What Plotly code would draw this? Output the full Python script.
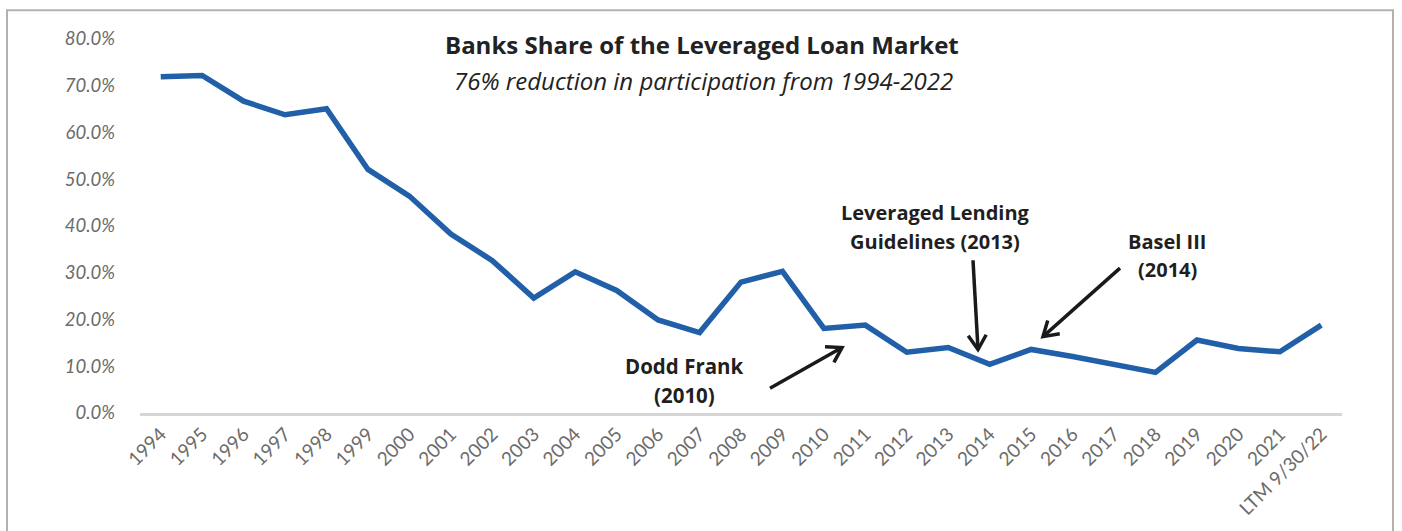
import plotly.graph_objects as go
import math

categories = ["1994", "1995", "1996", "1997", "1998", "1999", "2000", "2001", "2002", "2003",
              "2004", "2005", "2006", "2007", "2008", "2009", "2010", "2011", "2012", "2013",
              "2014", "2015", "2016", "2017", "2018", "2019", "2020", "2021", "LTM 9/30/22"]
bank_share = [71.9, 72.2, 66.7, 63.8, 65.1, 52.1, 46.4, 38.3, 32.6, 24.6,
              30.2, 26.2, 19.9, 17.2, 28.0, 30.3, 18.1, 18.8, 13.0, 14.0,
              10.4, 13.6, 12.1, 10.4, 8.7, 15.6, 13.8, 13.1, 18.8]
y_ticks = [0, 10, 20, 30, 40, 50, 60, 70, 80]
y_tick_labels = ["0.0%", "10.0%", "20.0%", "30.0%", "40.0%", "50.0%", "60.0%", "70.0%", "80.0%"]

W, H = 1402, 531
L, R, T, B = 140, 60, 39, 115
PW, PH = W - L - R, H - T - B


def px(x, y):
    return (x - L) / PW, (H - B - y) / PH


fig = go.Figure()
fig.add_trace(go.Scatter(
    x=categories, y=bank_share, mode="lines",
    line=dict(color="#2160a8", width=5.5, shape="linear"),
    hoverinfo="x+y", showlegend=False,
))

shapes = []
# outer frame
x0, y0 = px(7, 10)
x1, y1 = px(1393, 560)
shapes.append(dict(type="rect", xref="paper", yref="paper", x0=x0, y0=y0, x1=x1, y1=y1,
                   line=dict(color="#b8b1ab", width=2), layer="below"))


def arrow(tail, tip, head=17, ang=32):
    tx, ty = tail
    hx, hy = tip
    a = math.atan2(ty - hy, tx - hx)
    p = []
    for s in (-1, 1):
        aa = a + s * math.radians(ang)
        p.append((hx + head * math.cos(aa), hy + head * math.sin(aa)))
    sx0, sy0 = px(tx, ty)
    sx1, sy1 = px(hx, hy)
    shapes.append(dict(type="line", xref="paper", yref="paper", x0=sx0, y0=sy0, x1=sx1, y1=sy1,
                       line=dict(color="#1a1a1a", width=3.5)))
    a1 = px(*p[0]); t1 = px(hx, hy); a2 = px(*p[1])
    shapes.append(dict(type="path", xref="paper", yref="paper",
                       path=f"M {a1[0]},{a1[1]} L {t1[0]},{t1[1]} L {a2[0]},{a2[1]}",
                       line=dict(color="#1a1a1a", width=3.5)))


arrow((770, 391), (842, 350))
arrow((973, 262), (978, 352))
arrow((1120, 270), (1043, 339))

annotations = []


def text(x, y, s, size, bold=False, italic=False, color="#1f1f1f", family="Open Sans"):
    xp, yp = px(x, y)
    st = s
    if bold:
        st = f"<b>{st}</b>"
    if italic:
        st = f"<i>{st}</i>"
    annotations.append(dict(x=xp, y=yp, xref="paper", yref="paper", text=st, showarrow=False,
                            xanchor="center", yanchor="middle",
                            font=dict(family=family, size=size, color=color)))


text(702, 45, "Banks Share of the Leveraged Loan Market", 24, bold=True, color="#222222")
text(703, 81, "76% reduction in participation from 1994-2022", 24, italic=True, color="#222222")
text(935, 214, "Leveraged Lending", 20, bold=True)
text(935, 243, "Guidelines (2013)", 20, bold=True)
text(684, 369, "Dodd Frank", 20.5, bold=True)
text(684, 398, "(2010)", 20.5, bold=True)
text(1167, 243, "Basel III", 20, bold=True)
text(1167, 271, "(2014)", 20, bold=True)

fig.update_layout(
    width=W, height=H, autosize=False,
    margin=dict(l=L, r=R, t=T, b=B, pad=0),
    paper_bgcolor="white", plot_bgcolor="white",
    shapes=shapes, annotations=annotations,
    xaxis=dict(type="category", range=[-0.5, 28.5], showgrid=False, zeroline=False,
               showline=True, linecolor="#d6d6d6", linewidth=2.5,
               tickangle=-45, ticks="", tickfont=dict(family="Lato", size=19, color="#6b6b6b")),
    yaxis=dict(range=[0, 80], tickvals=y_ticks, ticktext=y_tick_labels, showgrid=False,
               zeroline=False, showline=False, ticks="", ticklabelstandoff=24,
               tickfont=dict(family="Lato", size=18.5, color="#6b6b6b", style="italic")),
)

fig.write_html("out.html")
